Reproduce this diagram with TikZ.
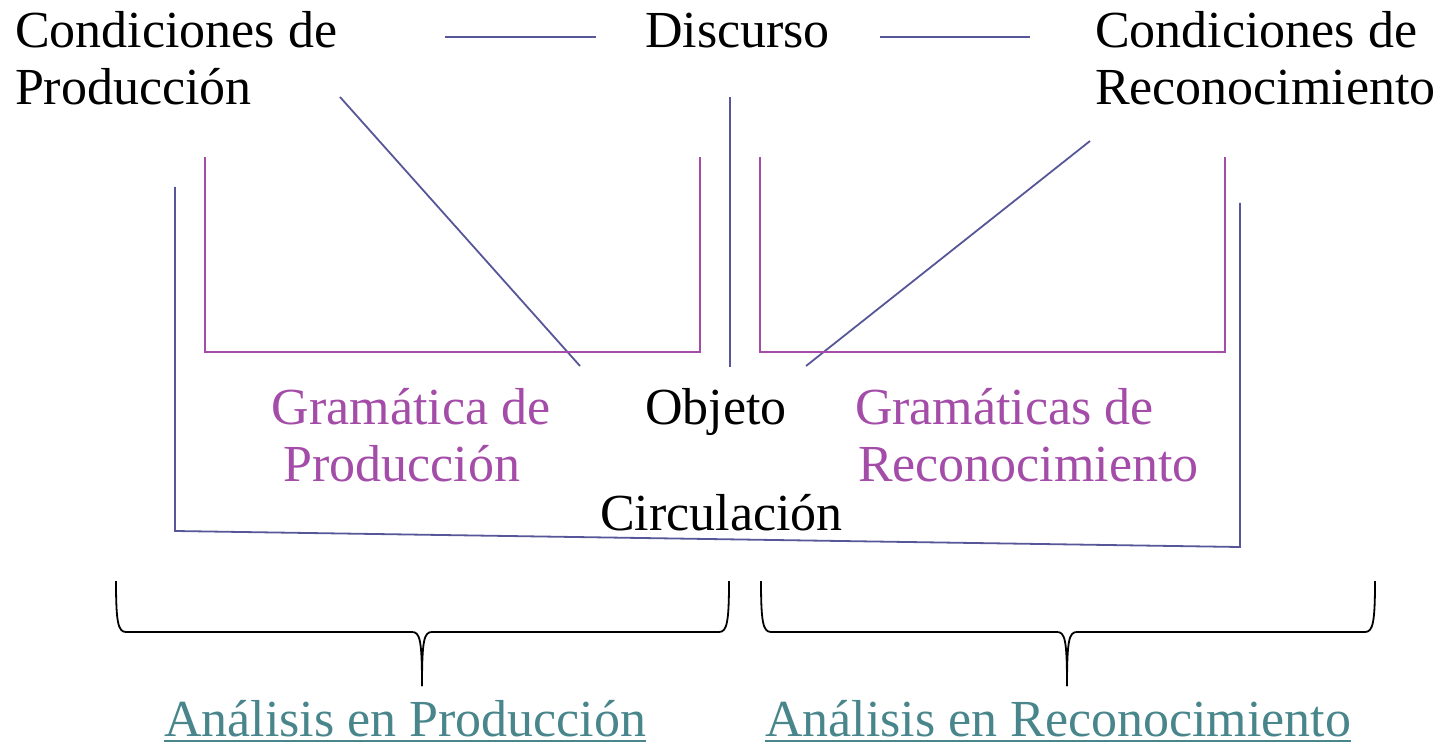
\documentclass[tikz,border=0pt]{standalone}
\usepackage{fontspec}
\setmainfont{Liberation Serif}
\usetikzlibrary{calc}
\definecolor{blueline}{RGB}{86,86,152}
\definecolor{purp}{RGB}{163,76,168}
\definecolor{tealc}{RGB}{72,134,140}
\tikzset{
  txt/.style={anchor=base west, inner sep=0pt, outer sep=0pt, font=\fontsize{52}{57}\selectfont},
  bl/.style={draw=blueline, line width=1.8pt},
  pl/.style={draw=purp, line width=1.8pt},
  brace/.style={draw=black, line width=1.8pt},
}
\begin{document}
\begin{tikzpicture}[x=1pt,y=-1pt]
\useasboundingbox (0,0) rectangle (1445,746);
% texts
\node[txt] (cp1) at (15,48) {Condiciones de};
\node[txt] (cp2) at (15,105) {Producción};
\node[txt] (disc) at (645,48) {Discurso};
\node[txt] (cr1) at (1095,48) {Condiciones de};
\node[txt] (cr2) at (1095,105) {Reconocimiento};
\node[txt, text=purp, anchor=base] (gp1) at (411,424) {Gramática de};
\node[txt, text=purp, anchor=base] (gp2) at (402,481) {Producción};
\node[txt] (obj) at (645,424) {Objeto};
\node[txt, text=purp] (gr1) at (855,424) {Gramáticas de};
\node[txt, text=purp] (gr2) at (858,481) {Reconocimiento};
\node[txt] (circ) at (600,530) {Circulación};
\node[txt, text=tealc] (ap) at (164,736) {Análisis en Producción};
\node[txt, text=tealc] (ar) at (765,736) {Análisis en Reconocimiento};
\draw[draw=tealc, line width=1.6pt] ($(ap.base west)+(0,5)$) -- ($(ap.base east)+(0,5)$);
\draw[draw=tealc, line width=1.6pt] ($(ar.base west)+(0,5)$) -- ($(ar.base east)+(0,5)$);
% blue connectors
\coordinate (h1a) at (445,37); \coordinate (h1b) at (596,37);
\coordinate (h2a) at (880,37); \coordinate (h2b) at (1030,37);
\draw[bl] (h1a) -- (h1b);
\draw[bl] (h2a) -- (h2b);
\coordinate (d1a) at (340,97); \coordinate (d1b) at (580,366);
\draw[bl] (d1a) -- (d1b);
\coordinate (va) at (730,97); \coordinate (vb) at (730,367);
\draw[bl] (va) -- (vb);
\coordinate (d2a) at (1090,141); \coordinate (d2b) at (806,366);
\draw[bl] (d2a) -- (d2b);
\coordinate (c1) at (175,187); \coordinate (c2) at (175,531);
\coordinate (c3) at (1240,547); \coordinate (c4) at (1240,203);
\draw[bl, line join=miter] (c1) -- (c2) -- (c3) -- (c4);
% purple brackets
\coordinate (p1) at (205,157); \coordinate (p2) at (205,352);
\coordinate (p3) at (700,352); \coordinate (p4) at (700,157);
\draw[pl] (p1) -- (p2) -- (p3) -- (p4);
\coordinate (q1) at (760,157); \coordinate (q2) at (760,352);
\coordinate (q3) at (1225,352); \coordinate (q4) at (1225,157);
\draw[pl] (q1) -- (q2) -- (q3) -- (q4);
% braces
\coordinate (b1l) at (116,581); \coordinate (b1r) at (729,581); \coordinate (b1t) at (422,686);
\draw[brace] (b1l) .. controls (116,622) and (118,632) .. (126,632) -- (412,632)
  .. controls (420,632) and (422,640) .. (b1t);
\draw[brace] (b1r) .. controls (729,622) and (727,632) .. (719,632) -- (432,632)
  .. controls (424,632) and (422,640) .. (b1t);
\coordinate (b2l) at (761,581); \coordinate (b2r) at (1375,581); \coordinate (b2t) at (1067,686);
\draw[brace] (b2l) .. controls (761,622) and (763,632) .. (771,632) -- (1057,632)
  .. controls (1065,632) and (1067,640) .. (b2t);
\draw[brace] (b2r) .. controls (1375,622) and (1373,632) .. (1365,632) -- (1077,632)
  .. controls (1069,632) and (1067,640) .. (b2t);
\end{tikzpicture}
\end{document}
